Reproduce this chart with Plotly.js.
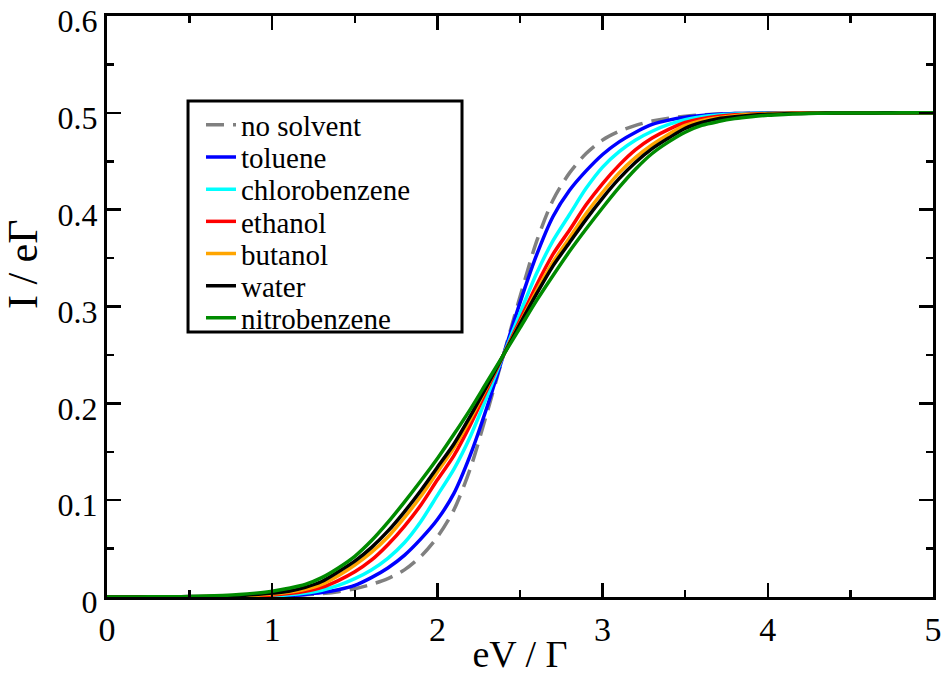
<!DOCTYPE html>
<html>
<head>
<meta charset="utf-8">
<script src="https://cdn.plot.ly/plotly-3.0.1.min.js"></script>
<style>html,body{margin:0;padding:0;background:#fff;}#chart{width:941px;height:675px;}</style>
</head>
<body>
<div id="chart"></div>
<script>
// bias voltage eV/Γ
const xVals = [0.0,0.1,0.2,0.3,0.4,0.5,0.6,0.7,0.8,0.9,1.0,1.1,1.2,1.3,1.4,1.5,1.6,1.7,1.8,1.9,2.0,2.1,2.2,2.3,2.4,
               2.5,2.6,2.7,2.8,2.9,3.0,3.1,3.2,3.3,3.4,3.5,3.6,3.7,3.8,3.9,4.0,4.1,4.2,4.3,4.4,4.5,4.6,4.7,4.8,4.9,5.0];

const seriesNames = ["no solvent","toluene","chlorobenzene","ethanol","butanol","water","nitrobenzene"];

const noSolvent = [0,0,0,0,0,0,0.0001,0.0002,0.0003,0.0005,0.0008,0.0013,0.0022,0.0035,0.0055,0.0085,0.013,0.019,0.028,0.042,0.062,0.090,0.133,0.190,0.25,
  0.310,0.367,0.410,0.438,0.458,0.472,0.481,0.487,0.4915,0.4945,0.4965,0.4978,0.4987,0.4992,0.4995,0.4997,0.4998,0.4999,0.5,0.5,0.5,0.5,0.5,0.5,0.5,0.5];
const toluene = [0,0,0,0,0,0,0,0.0001,0.0002,0.0004,0.0008,0.0015,0.0027,0.0045,0.0075,0.012,0.020,0.030,0.043,0.060,0.080,0.107,0.147,0.196,0.25,
  0.304,0.353,0.393,0.420,0.440,0.457,0.470,0.480,0.488,0.4925,0.4955,0.4973,0.4985,0.4992,0.4996,0.4998,0.4999,0.5,0.5,0.5,0.5,0.5,0.5,0.5,0.5,0.5];
const chlorobenzene = [0,0,0,0,0,0,0.0001,0.0002,0.0004,0.0007,0.0012,0.0022,0.004,0.007,0.012,0.019,0.028,0.040,0.056,0.078,0.105,0.132,0.166,0.207,0.25,
  0.293,0.334,0.368,0.395,0.422,0.444,0.460,0.472,0.481,0.488,0.493,0.496,0.4978,0.4988,0.4993,0.4996,0.4998,0.4999,0.5,0.5,0.5,0.5,0.5,0.5,0.5,0.5];
const ethanol = [0,0,0,0,0.0001,0.0001,0.0002,0.0004,0.0007,0.0012,0.002,0.0035,0.006,0.010,0.017,0.026,0.038,0.054,0.073,0.095,0.121,0.146,0.178,0.214,0.25,
  0.286,0.322,0.354,0.379,0.405,0.427,0.446,0.462,0.474,0.483,0.490,0.494,0.4965,0.498,0.4988,0.4993,0.4996,0.4998,0.4999,0.4999,0.5,0.5,0.5,0.5,0.5,0.5];
const butanol = [0,0,0,0.0001,0.0001,0.0002,0.0004,0.0006,0.001,0.0018,0.003,0.005,0.008,0.013,0.022,0.033,0.046,0.062,0.082,0.104,0.129,0.154,0.184,0.217,0.25,
  0.283,0.316,0.346,0.371,0.396,0.418,0.438,0.454,0.467,0.478,0.487,0.492,0.495,0.497,0.4982,0.499,0.4994,0.4996,0.4998,0.4999,0.4999,0.5,0.5,0.5,0.5,0.5];
const water = [0,0,0.0001,0.0001,0.0002,0.0004,0.0006,0.001,0.0015,0.0025,0.004,0.006,0.010,0.016,0.026,0.037,0.051,0.068,0.088,0.110,0.134,0.158,0.187,0.218,0.25,
  0.282,0.313,0.342,0.366,0.390,0.412,0.432,0.449,0.463,0.474,0.484,0.490,0.494,0.496,0.4975,0.4985,0.499,0.4994,0.4996,0.4998,0.4999,0.4999,0.5,0.5,0.5,0.5];
const nitrobenzene = [0,0.0001,0.0001,0.0002,0.0003,0.0005,0.001,0.0016,0.0025,0.004,0.006,0.009,0.013,0.020,0.030,0.042,0.058,0.077,0.098,0.120,0.143,0.168,0.194,0.222,0.25,
  0.278,0.306,0.332,0.357,0.380,0.402,0.423,0.442,0.458,0.470,0.480,0.487,0.491,0.494,0.496,0.4975,0.4984,0.499,0.4995,0.4997,0.4998,0.4999,0.4999,0.5,0.5,0.5];

const xTickVals = [0,1,2,3,4,5];
const xTickText = ["0","1","2","3","4","5"];
const yTickVals = [0,0.1,0.2,0.3,0.4,0.5,0.6];
const yTickText = ["0","0.1","0.2","0.3","0.4","0.5","0.6"];
const xTitle = "eV / Γ";
const yTitle = "I / eΓ";

const allSeries = [noSolvent, toluene, chlorobenzene, ethanol, butanol, water, nitrobenzene];
const colors = ["#808080","#0000ff","#00ffff","#ff0000","#ffa500","#000000","#008b00"];
const dashes = ["18px,9px","solid","solid","solid","solid","solid","solid"];
const legendIds = ["legend","legend2","legend3","legend4","legend5","legend6","legend7"];
// legend entry centres (paper fraction)
const legendY = [0.8124,0.7570,0.7017,0.6463,0.5908,0.5356,0.4802];

const traces = allSeries.map((ys, i) => ({
  x: xVals, y: ys, name: seriesNames[i], type: "scatter", mode: "lines",
  legend: legendIds[i],
  line: {color: colors[i], width: 3.5, dash: dashes[i], shape: "spline", smoothing: 0.8}
}));

const serif = "Liberation Serif";
const axisCommon = {
  showline: true, linewidth: 3, linecolor: "#000", mirror: "ticks",
  ticks: "inside", ticklen: 14, tickwidth: 2.5, tickcolor: "#000",
  showgrid: false, zeroline: false, ticklabeloverflow: "allow"
};

const layout = {
  width: 941, height: 675,
  margin: {l: 107, r: 8, t: 16, b: 78},
  paper_bgcolor: "#fff", plot_bgcolor: "#fff",
  showlegend: true,
  xaxis: Object.assign({}, axisCommon, {
    range: [0, 5], tickvals: xTickVals, ticktext: xTickText,
    tickfont: {family: serif, size: 34, color: "#000"},
    minor: {ticks: "inside", ticklen: 7, tickwidth: 2.5, tickcolor: "#000", dtick: 0.5, showgrid: false},
    title: {text: xTitle, font: {family: serif, size: 38, color: "#000"}, standoff: 0}
  }),
  yaxis: Object.assign({}, axisCommon, {
    range: [0, 0.6], tickvals: yTickVals, ticktext: yTickText,
    tickfont: {family: serif, size: 32, color: "#000"},
    ticklabelshift: 5,
    minor: {ticks: "inside", ticklen: 7, tickwidth: 2.5, tickcolor: "#000", dtick: 0.05, showgrid: false}
  }),
  annotations: [{
    text: yTitle, xref: "paper", yref: "paper", x: -0.1017, y: 0.573,
    xanchor: "center", yanchor: "middle", textangle: -90, showarrow: false,
    font: {family: serif, size: 42, color: "#000"}
  }],
  shapes: [{
    type: "rect", xref: "paper", yref: "paper", layer: "below",
    x0: 0.0981, x1: 0.4298, y0: 0.4561, y1: 0.8537,
    line: {color: "#000", width: 3}, fillcolor: "#fff"
  }]
};

legendIds.forEach((id, i) => {
  layout[id] = {
    x: 0.1138, y: legendY[i], xanchor: "left", yanchor: "middle",
    bgcolor: "rgba(0,0,0,0)", borderwidth: 0,
    font: {family: serif, size: 29, color: "#000"},
    itemwidth: 30
  };
});

Plotly.newPlot("chart", traces, layout, {displayModeBar: false, staticPlot: true});
</script>
</body>
</html>
